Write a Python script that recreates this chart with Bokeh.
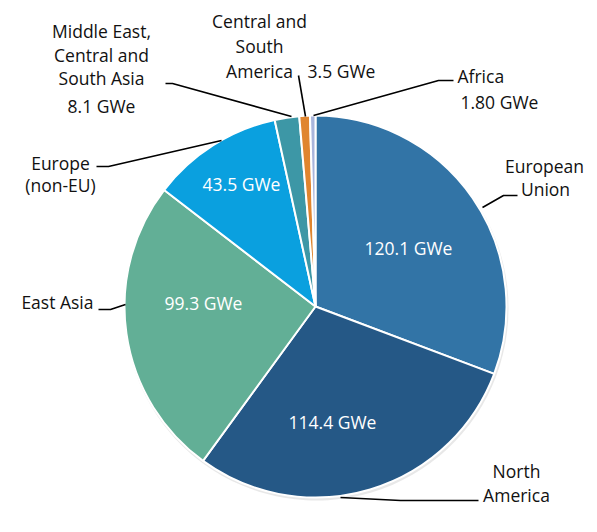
import math
from bokeh.plotting import figure
from bokeh.models import Range1d, ColumnDataSource
from bokeh.core.properties import value
from bokeh.embed import file_html
from bokeh.resources import INLINE

# ---- data ----
regions = ["European Union", "North America", "East Asia", "Europe (non-EU)",
           "Middle East, Central and South Asia", "Central and South America", "Africa"]
capacity = [120.1, 114.4, 99.3, 43.5, 8.1, 3.5, 1.80]
value_labels = ["120.1 GWe", "114.4 GWe", "99.3 GWe", "43.5 GWe", "8.1 GWe", "3.5 GWe", "1.80 GWe"]
colors = ["#3274a6", "#255886", "#62af96", "#0aa0df", "#3d97a6", "#e0852f", "#a9b5dc"]

FONT = "Open Sans"
W, H = 589, 524
PAGE_H = 532


def sy(y):
    # screen y (pixels) -> data y
    return PAGE_H - y


p = figure(width=W, height=H, output_backend="svg", toolbar_location=None,
           x_range=Range1d(0, W), y_range=Range1d(PAGE_H - H, PAGE_H),
           min_border=0, outline_line_color=None)
p.axis.visible = False
p.grid.visible = False
p.background_fill_color = "white"

cx, cy, r = 315, sy(306), 191
total = sum(capacity)
starts, ends = [], []
a = math.pi / 2
for v in capacity:
    ang = 2 * math.pi * v / total
    starts.append(a - ang)
    ends.append(a)
    a -= ang

src = ColumnDataSource(dict(start=starts, end=ends, color=colors, name=regions))
# soft shadow
p.wedge(x=cx + 1, y=cy - 2, radius=r + 1, start_angle="start", end_angle="end",
        color="#d8d8d8", line_color=None, alpha=0.6, source=src)
p.wedge(x=cx, y=cy, radius=r, start_angle="start", end_angle="end",
        fill_color="color", line_color="white", line_width=2, source=src)

# leader lines (screen coords)
leaders = [
    ([165, 172, 291], [83, 83, 116]),        # Middle East
    ([298, 305], [75, 116]),                 # Central & South America
    ([453, 438, 313], [80, 80, 115]),        # Africa
    ([96, 108, 221], [166, 166, 140]),       # Europe non-EU
    ([98, 110, 125], [309, 309, 304]),       # East Asia
    ([482, 503, 517], [207, 195, 195]),      # EU
    ([340, 400, 478], [497, 500, 500]),      # North America
]
for xs, ys in leaders:
    p.line(xs, [sy(y) for y in ys], line_color="black", line_width=1.6)

# outside labels
outer = [
    ("Middle East,", 101, 30, "center"),
    ("Central and", 101, 54, "center"),
    ("South Asia", 101, 77, "center"),
    (value_labels[4], 101, 105, "center"),
    ("Central and", 259, 20, "center"),
    ("South", 259, 45, "center"),
    ("America", 259, 70, "center"),
    (value_labels[5], 341, 70, "center"),
    ("Africa", 457, 75, "left"),
    (value_labels[6], 460, 101, "left"),
    ("European", 544, 165, "center"),
    ("Union", 545, 188, "center"),
    ("North", 516, 470, "center"),
    ("America", 516, 494, "center"),
    ("East Asia", 93, 301, "right"),
    ("Europe", 60, 162, "center"),
    ("(non-EU)", 60, 184, "center"),
]
for t, x, y, al in outer:
    p.text(x=[x], y=[sy(y)], text=[t], text_font=value(FONT), text_font_size="17.5px",
           text_color="#111111", text_align=al, text_baseline="middle")

inner = [
    (value_labels[0], 408, 247),
    (value_labels[1], 332, 421),
    (value_labels[2], 203, 302),
    (value_labels[3], 241, 183),
]
for t, x, y in inner:
    p.text(x=[x], y=[sy(y)], text=[t], text_font=value(FONT), text_font_size="17.5px",
           text_color="white", text_align="center", text_baseline="middle")

open("out.html", "w").write(file_html(p, INLINE))
